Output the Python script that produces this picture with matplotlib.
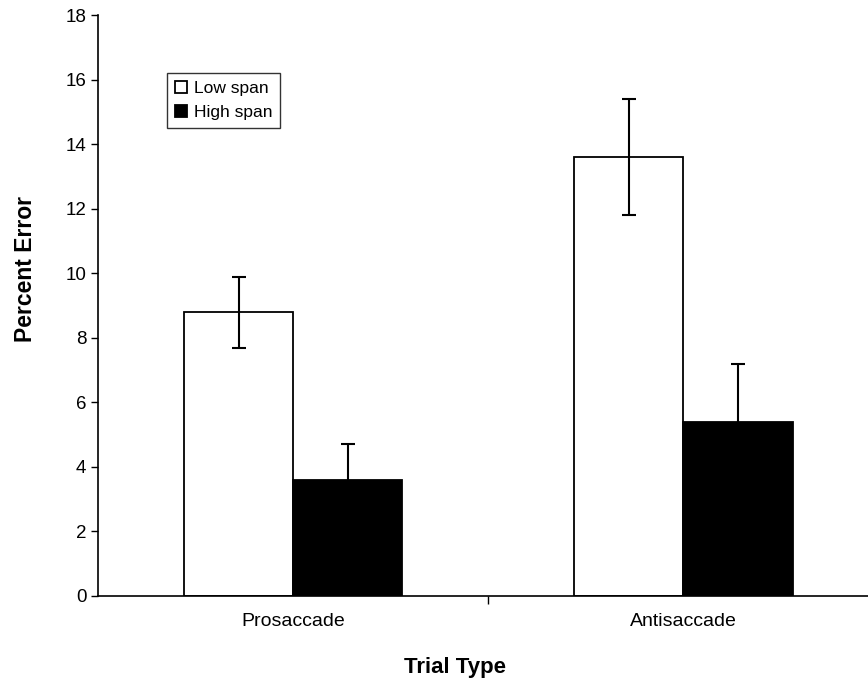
import numpy as np
import matplotlib.pyplot as plt

# data
categories = ["Prosaccade", "Antisaccade"]
low_span = [8.8, 13.6]
low_err = [1.1, 1.8]
high_span = [3.6, 5.4]
high_err = [1.1, 1.8]

plt.rcParams['font.family'] = ['Liberation Sans', 'DejaVu Sans']

fig = plt.figure(figsize=(8.68, 6.84), dpi=100)
ax = fig.add_axes([0.113, 0.1287, 0.899, 0.849])

x = np.arange(len(categories))
w = 0.28

ax.bar(x - w / 2, low_span, w, color='white', edgecolor='black', linewidth=1.3,
       label='Low span', zorder=2)
ax.bar(x + w / 2, high_span, w, color='black', edgecolor='black', linewidth=1.3,
       label='High span', zorder=2)
ax.errorbar(x - w / 2, low_span, yerr=low_err, fmt='none', ecolor='black',
            elinewidth=1.5, capsize=5, capthick=1.5, zorder=3)
ax.errorbar(x + w / 2, high_span, yerr=high_err, fmt='none', ecolor='black',
            elinewidth=1.5, capsize=5, capthick=1.5, zorder=1)

ax.set_xlim(-0.5, 1.5)
ax.set_ylim(0, 18)
ax.set_yticks(np.arange(0, 19, 2))
ax.tick_params(axis='y', labelsize=13.5, length=5, width=1, direction='out')

ax.set_xticks(x)
ax.set_xticklabels(categories, fontsize=14)
ax.set_xticks([0.5], minor=True)
ax.tick_params(axis='x', which='major', length=0, pad=12)
ax.tick_params(axis='x', which='minor', length=6, width=1, direction='out')

for s in ['top', 'right']:
    ax.spines[s].set_visible(False)
ax.spines['left'].set_linewidth(1.2)
ax.spines['bottom'].set_linewidth(1.2)

ax.set_ylabel("Percent Error", fontsize=16.5, fontweight='bold')
ax.yaxis.set_label_coords(-0.078, 0.563)
ax.set_xlabel("Trial Type", fontsize=16, fontweight='bold')
ax.xaxis.set_label_coords(0.458, -0.105)

leg = ax.legend(loc='upper left', bbox_to_anchor=(0.088, 0.9), fontsize=12.5,
                frameon=True, fancybox=False, edgecolor='black',
                handlelength=0.7, handleheight=0.7, handletextpad=0.4,
                borderpad=0.45, labelspacing=0.5, borderaxespad=0)
leg.get_frame().set_linewidth(1.0)

fig.savefig("out.png", dpi=100)
